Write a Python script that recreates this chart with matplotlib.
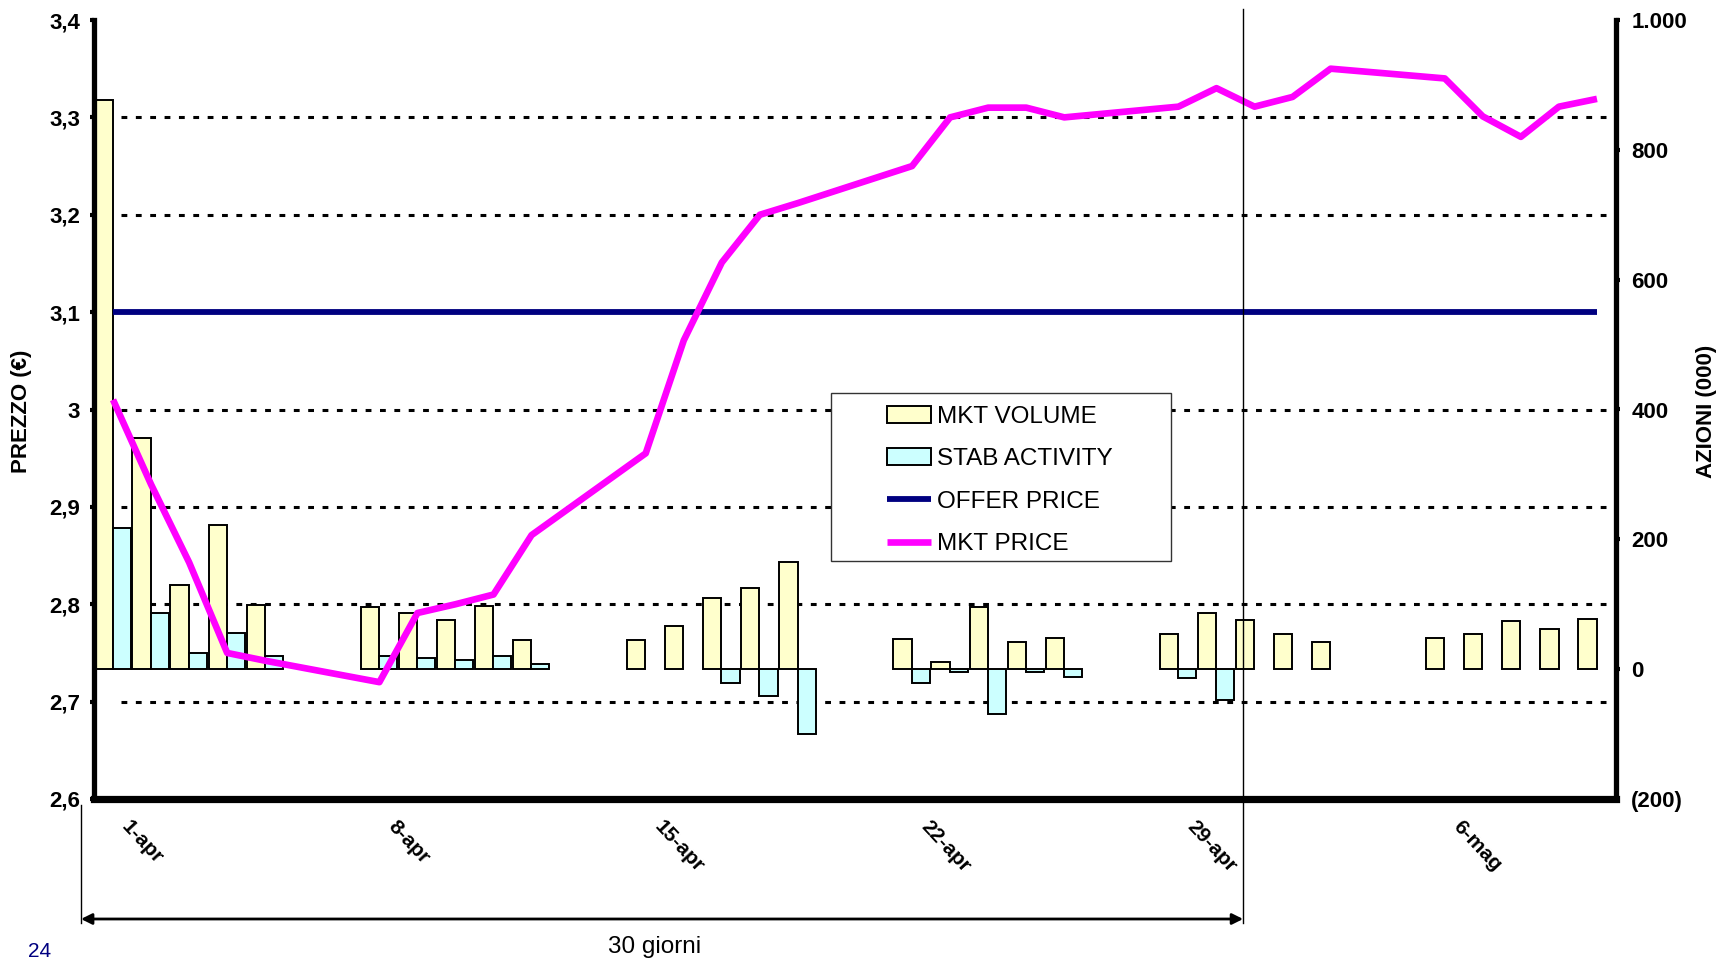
import numpy as np
import pandas as pd
import matplotlib
matplotlib.use('Agg')
from matplotlib import pyplot as plt
from matplotlib.ticker import FuncFormatter
from matplotlib.patches import Rectangle
import matplotlib.transforms as mtransforms

plt.rcParams['font.family'] = ['Liberation Sans', 'DejaVu Sans']

# trading days (1-apr to 10-mag)
dates = ['2002-04-01', '2002-04-02', '2002-04-03', '2002-04-04', '2002-04-05',
         '2002-04-08', '2002-04-09', '2002-04-10', '2002-04-11', '2002-04-12',
         '2002-04-15', '2002-04-16', '2002-04-17', '2002-04-18', '2002-04-19',
         '2002-04-22', '2002-04-23', '2002-04-24', '2002-04-25', '2002-04-26',
         '2002-04-29', '2002-04-30', '2002-05-01', '2002-05-02', '2002-05-03',
         '2002-05-06', '2002-05-07', '2002-05-08', '2002-05-09', '2002-05-10']

# azioni (000)
mkt_volume = [877, 356, 129, 222, 99,
              96, 87, 76, 97, 45,
              45, 67, 109, 125, 165,
              47, 11, 96, 42, 48,
              54, 87, 75, 54, 42,
              48, 54, 74, 62, 77]
stab_activity = [218, 86, 25, 55, 20,
                 20, 17, 14, 20, 8,
                 np.nan, np.nan, -21, -41, -100,
                 -21, -4, -69, -4, -12,
                 -14, -47, np.nan, np.nan, np.nan,
                 np.nan, np.nan, np.nan, np.nan, np.nan]

# prezzo (EUR)
mkt_price = [3.010, 2.923, 2.843, 2.750, 2.742,
             2.720, 2.791, 2.800, 2.810, 2.871,
             2.955, 3.071, 3.151, 3.200, 3.212,
             3.250, 3.300, 3.310, 3.310, 3.300,
             3.311, 3.330, 3.311, 3.321, 3.350,
             3.340, 3.301, 3.280, 3.311, 3.319]
offer_price = 3.1

tick_dates = ['2002-04-01', '2002-04-08', '2002-04-15', '2002-04-22', '2002-04-29', '2002-05-06']
tick_labels = ['1-apr', '8-apr', '15-apr', '22-apr', '29-apr', '6-mag']
window_days = 30

start = pd.Timestamp(dates[0])
x = (pd.to_datetime(dates) - start).days.values.astype(float)
tick_x = (pd.to_datetime(tick_dates) - start).days.values


def price_fmt(v, pos):
    s = ('%.1f' % v).replace('.', ',')
    return s[:-2] if s.endswith(',0') else s


def vol_fmt(v, pos):
    s = '{:,.0f}'.format(abs(v)).replace(',', '.')
    return '(%s)' % s if v < 0 else s


W, H = 1733, 960
fig = plt.figure(figsize=(W / 100, H / 100), dpi=100)
fig.patch.set_facecolor('white')

ax = fig.add_axes([94 / W, 1 - 799 / H, (1616 - 94) / W, (799 - 20) / H])
axv = ax.twinx()
ax.set_zorder(2)
axv.set_zorder(1)
ax.patch.set_visible(False)

ax.set_xlim(0, 40)
ax.set_ylim(2.6, 3.4)
axv.set_ylim(-200, 1000)

# gridlines (behind the bars, on the price scale)
grid_prices = [2.7, 2.8, 2.9, 3.0, 3.2, 3.3]
axv.hlines(grid_prices, 0.7, 40, transform=ax.transData, colors='black',
           linestyles=(0, (1.9, 2.8)), linewidth=2.2, zorder=0)

# bars
bars_v = axv.bar(x + 0.01, mkt_volume, width=0.48, align='edge', color='#FFFFCC',
                 edgecolor='black', linewidth=1.4, zorder=2)
bars_s = axv.bar(x + 0.49, stab_activity, width=0.48, align='edge', color='#CCFFFF',
                 edgecolor='black', linewidth=1.4, zorder=2)

# lines
line_offer, = ax.plot(x + 0.5, [offer_price] * len(x), color='#000080', lw=4.2,
                      solid_capstyle='butt')
line_mkt, = ax.plot(x + 0.5, mkt_price, color='#FF00FF', lw=4.8,
                    solid_capstyle='butt')

# spines
ax.spines['top'].set_visible(False)
ax.spines['right'].set_visible(False)
ax.spines['left'].set_linewidth(3.8)
ax.spines['bottom'].set_linewidth(5.2)
for s in ['top', 'left', 'bottom']:
    axv.spines[s].set_visible(False)
axv.spines['right'].set_linewidth(3.8)

# ticks
ax.set_yticks(np.arange(2.6, 3.41, 0.1))
ax.yaxis.set_major_formatter(FuncFormatter(price_fmt))
axv.set_yticks(np.arange(-200, 1001, 200))
axv.yaxis.set_major_formatter(FuncFormatter(vol_fmt))
ax.tick_params(axis='y', direction='out', length=3, width=3, pad=7, labelsize=16)
axv.tick_params(axis='y', direction='out', length=3, width=3, pad=8, labelsize=16)
for lab in ax.get_yticklabels() + axv.get_yticklabels():
    lab.set_fontweight('bold')

ax.set_xticks(tick_x)
ax.set_xticklabels(tick_labels, rotation=-47, ha='left', va='top', fontsize=15,
                   fontweight='bold')
ax.tick_params(axis='x', direction='out', length=3, width=3, pad=10)
shift = mtransforms.ScaledTranslation(0.24, 0, fig.dpi_scale_trans)
for lab in ax.get_xticklabels():
    lab.set_transform(lab.get_transform() + shift)

fig.text(22 / W, 1 - 411 / H, 'PREZZO (€)', rotation=90, ha='center', va='center',
         fontsize=16, fontweight='bold')
fig.text(1707 / W, 1 - 411 / H, 'AZIONI (000)', rotation=90, ha='center', va='center',
         fontsize=16, fontweight='bold')

# legend with its own frame
frame = Rectangle((831 / W, 1 - 561 / H), 340 / W, 168 / H, transform=fig.transFigure,
                  facecolor='white', edgecolor='#333333', linewidth=1.0, zorder=5)
fig.patches.append(frame)
leg = fig.legend([bars_v, bars_s, line_offer, line_mkt],
                 ['MKT VOLUME', 'STAB ACTIVITY', 'OFFER PRICE', 'MKT PRICE'],
                 loc='upper left', bbox_to_anchor=(887 / W, 1 - 406 / H),
                 frameon=False, fontsize=17.5, borderpad=0, borderaxespad=0,
                 handlelength=1.8, handleheight=0.7, handletextpad=0.25,
                 labelspacing=0.84)
leg.set_zorder(6)

# 30-day window marker
to_fig = ax.transData + fig.transFigure.inverted()
x_end = to_fig.transform((window_days + 0.2, 2.6))[0]
x_start = 81 / W
y_arrow = 1 - 919 / H
fig.add_artist(plt.Line2D([x_end, x_end], [1 - 9 / H, 1 - 923 / H], color='black',
                          lw=1.0, transform=fig.transFigure, zorder=7))
fig.add_artist(plt.Line2D([x_start, x_start], [1 - 805 / H, 1 - 923 / H], color='black',
                          lw=1.0, transform=fig.transFigure, zorder=7))
fig.add_artist(matplotlib.patches.FancyArrowPatch(
    (x_start, y_arrow), (x_end, y_arrow), transform=fig.transFigure,
    arrowstyle='<|-|>', mutation_scale=16, lw=2.0, color='black',
    shrinkA=0, shrinkB=0, zorder=7))
fig.text(655 / W, 1 - 947 / H, '30 giorni', ha='center', va='center', fontsize=17.5)
# page number
fig.text(28 / W, 1 - 957 / H, '24', ha='left', va='baseline', fontsize=15,
         color='#000080')

fig.savefig('out.png', dpi=100)
